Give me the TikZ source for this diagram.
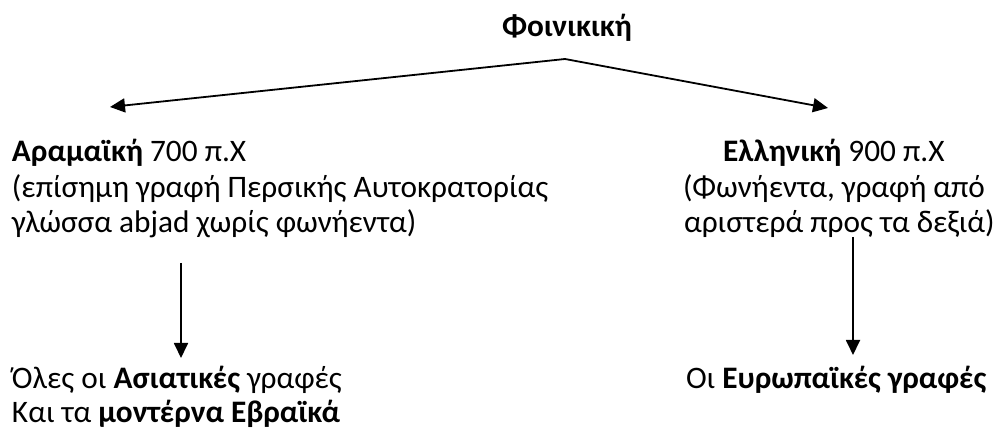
\documentclass[tikz,border=0pt]{standalone}
\usepackage{fontspec}
\setmainfont{Carlito}
\usetikzlibrary{arrows.meta}
\tikzset{
  txt/.style={anchor=base west, inner sep=0pt, outer sep=0pt, font=\fontsize{31.3pt}{36pt}\selectfont},
  arr/.style={line width=1.8pt, -{Triangle[length=15pt,width=14pt]}}
}
\begin{document}
\begin{tikzpicture}[x=1pt,y=1pt]
\useasboundingbox (0,0) rectangle (1007,-435);
\node[txt, anchor=base] (phoen) at (567,-37) {\textbf{Φοινικική}};
\node[txt] (aram1) at (12,-162) {\textbf{Αραμαϊκή} 700 π.Χ};
\node[txt] (aram2) at (12,-197.5) {(επίσημη γραφή Περσικής Αυτοκρατορίας};
\node[txt] (aram3) at (12,-233) {γλώσσα abjad χωρίς φωνήεντα)};
\node[txt] (ell1) at (723,-162) {\textbf{Ελληνική} 900 π.Χ};
\node[txt] (ell2) at (683,-197.5) {(Φωνήεντα, γραφή από};
\node[txt] (ell3) at (684,-233) {αριστερά προς τα δεξιά)};
\node[txt] (asia1) at (12,-389) {Όλες οι \textbf{Ασιατικές} γραφές};
\node[txt] (asia2) at (12,-423) {Και τα \textbf{μοντέρνα Εβραϊκά}};
\node[txt] (euro) at (686,-389) {Οι \textbf{Ευρωπαϊκές γραφές}};
\coordinate (top) at (565,-59);
\coordinate (lend) at (110,-107);
\coordinate (rend) at (828,-108);
\coordinate (ls) at (181,-263);
\coordinate (le) at (181,-358);
\coordinate (rs) at (853,-237);
\coordinate (re) at (853,-355);
\draw[arr] (top) -- (lend);
\draw[arr] (top) -- (rend);
\draw[arr] (ls) -- (le);
\draw[arr] (rs) -- (re);
\end{tikzpicture}
\end{document}
